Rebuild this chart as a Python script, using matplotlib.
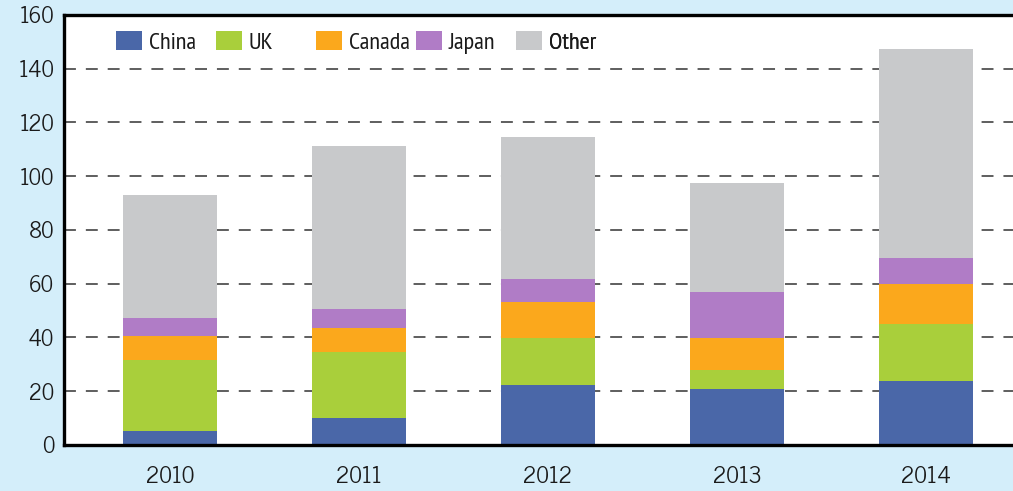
import matplotlib.pyplot as plt
import numpy as np
from matplotlib.patches import Patch

years = ["2010", "2011", "2012", "2013", "2014"]
china = [5.2, 10.0, 22.3, 20.8, 23.8]
uk = [26.4, 24.6, 17.5, 7.1, 21.2]
canada = [8.9, 8.9, 13.4, 11.9, 14.9]
japan = [6.8, 7.1, 8.6, 17.1, 9.7]
other = [45.7, 60.7, 52.8, 40.6, 77.7]

series = ["China", "UK", "Canada", "Japan", "Other"]
colors = ["#4A67A8", "#A9CF3B", "#FBA81C", "#B07CC6", "#C8C9CB"]

plt.rcParams['font.family'] = ['News Cycle', 'DejaVu Sans']

fig = plt.figure(figsize=(10.13, 4.91), dpi=100)
fig.patch.set_facecolor("#D4EEFA")
ax = fig.add_axes([0.0632, 0.0937, 0.9368, 0.8758])
ax.set_facecolor("white")

x = np.arange(len(years))
bottom = np.zeros(len(years))
for name, vals, c in zip(series, [china, uk, canada, japan, other], colors):
    ax.bar(x, vals, width=0.5, bottom=bottom, color=c, zorder=2)
    bottom += np.array(vals)

ax.set_ylim(0, 160)
ax.set_xlim(-0.56, 4.46)
ax.set_yticks(range(0, 161, 20))
ax.set_xticks(x)
ax.set_xticklabels(years)
ax.tick_params(axis="y", length=0, pad=7, labelsize=16, colors="#1a1a1a")
ax.tick_params(axis="x", length=0, pad=15, labelsize=16.5, colors="#1a1a1a")

for yv in range(20, 141, 20):
    ax.axhline(yv, color="#333333", linewidth=1.1, dashes=(7.8, 6.5), zorder=1)

for s in ["left", "top", "bottom"]:
    ax.spines[s].set_linewidth(2.4)
    ax.spines[s].set_color("black")
ax.spines["right"].set_visible(False)

# legend: one entry per box so the columns keep an even spacing
for i, (name, c) in enumerate(zip(series, colors)):
    leg = ax.legend(handles=[Patch(facecolor=c, label=name)],
                    loc="center left", bbox_to_anchor=(0.0548 + i * 0.1054, 0.936),
                    frameon=False, handlelength=1.06, handleheight=0.82,
                    handletextpad=0.28, borderaxespad=0, borderpad=0,
                    prop={"family": ["PT Sans Narrow", "DejaVu Sans"],
                          "weight": "normal", "size": 17.5})
    for t in leg.get_texts():
        t.set_color("#1a1a1a")
    ax.add_artist(leg)

fig.savefig("out.png", dpi=100, facecolor=fig.get_facecolor())
